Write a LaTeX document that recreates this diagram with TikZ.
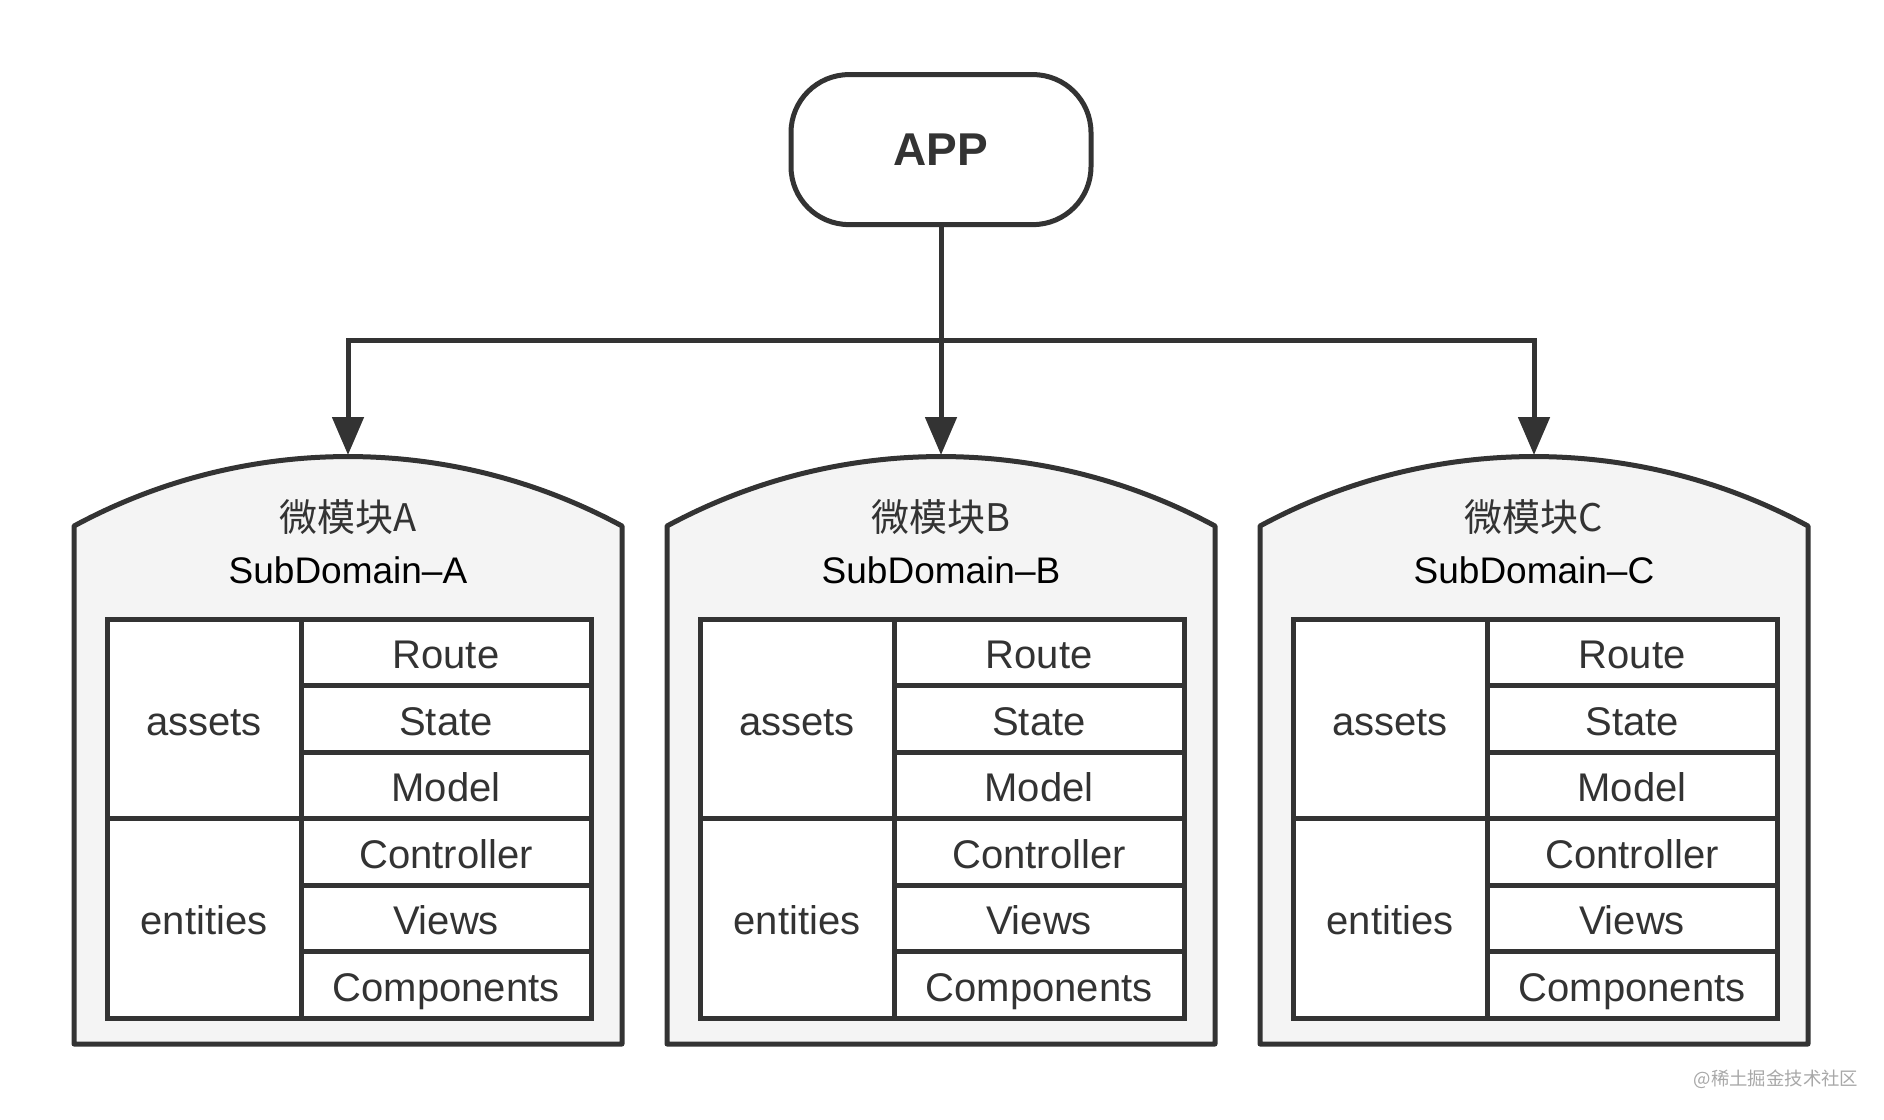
\documentclass[tikz,border=0pt]{standalone}
\usepackage{fontspec}
\setmainfont{Liberation Sans}
\newfontfamily\cjk{Noto Sans CJK SC}
\usepackage{xcolor}
\usetikzlibrary{arrows.meta,positioning}
\definecolor{LineC}{HTML}{333333}
\definecolor{ModFill}{HTML}{F4F4F4}
\definecolor{MarkC}{HTML}{A8A8A8}
\tikzset{
  appbox/.style={draw=LineC,line width=2.5pt,rounded corners=29pt,
                 minimum width=150pt,minimum height=75pt,text=LineC,
                 font=\fontsize{23}{27}\selectfont\bfseries},
  modshape/.style={draw=LineC,fill=ModFill,line width=2.5pt,line join=round},
  ttl/.style={inner sep=0pt,text=LineC,font={\cjk\fontsize{19}{23}\selectfont}},
  sub/.style={inner sep=0pt,text=black,font=\fontsize{18.5}{22}\selectfont},
  cell/.style={draw=LineC,fill=white,line width=2.5pt,outer sep=0pt,inner sep=0pt,
               text=LineC,font=\fontsize{20}{24}\selectfont,
               text height=16.5pt,text depth=0pt},
  rcell/.style={cell,minimum width=145pt,minimum height=33.25pt},
  lcell/.style={cell,minimum width=97pt,minimum height=99.75pt},
  link/.style={draw=LineC,line width=2.5pt,
               -{Triangle[length=19pt,width=15.5pt]}},
  wmark/.style={inner sep=0pt,text=MarkC,font={\cjk\fontsize{9.2}{11}\selectfont}},
}

\begin{document}
\begin{tikzpicture}[x=0.5pt,y=-0.5pt]
  \useasboundingbox (0,0) rectangle (1884,1119);

  \node[appbox] (app) at (941,149.6) {APP};

  % three sub-domains
  \foreach \cx/\m in {348/A,941/B,1534/C}{
    \draw[modshape] (\cx-274,1044) -- (\cx-274,526)
      .. controls (\cx-103,433.4) and (\cx+103,433.4) .. (\cx+274,526)
      -- (\cx+274,1044) -- cycle;
    \coordinate (top\m) at (\cx,455);
    \node[ttl] (ttl\m) at (\cx,517) {微模块\m};
    \node[sub] (sd\m) at (\cx,570) {SubDomain--\m};
    \node[lcell,anchor=north west] (assets\m) at (\cx-241,619) {assets};
    \node[lcell,below=0pt of assets\m] (ent\m) {entities};
    \node[rcell,anchor=north west] (route\m) at (assets\m.north east) {Route};
    \node[rcell,below=0pt of route\m] (state\m) {State};
    \node[rcell,below=0pt of state\m] (model\m) {Model};
    \node[rcell,below=0pt of model\m] (ctrl\m) {Controller};
    \node[rcell,below=0pt of ctrl\m] (views\m) {Views};
    \node[rcell,below=0pt of views\m] (comp\m) {Components};
  }

  \coordinate (fork) at (941,340);
  \draw[link] (app.south) -- (topB);
  \foreach \m in {A,C}
    \draw[link] (app.south) -- (fork) -| (top\m);

  \node[wmark] (wm) at (1776,1079) {@稀土掘金技术社区};
\end{tikzpicture}
\end{document}
